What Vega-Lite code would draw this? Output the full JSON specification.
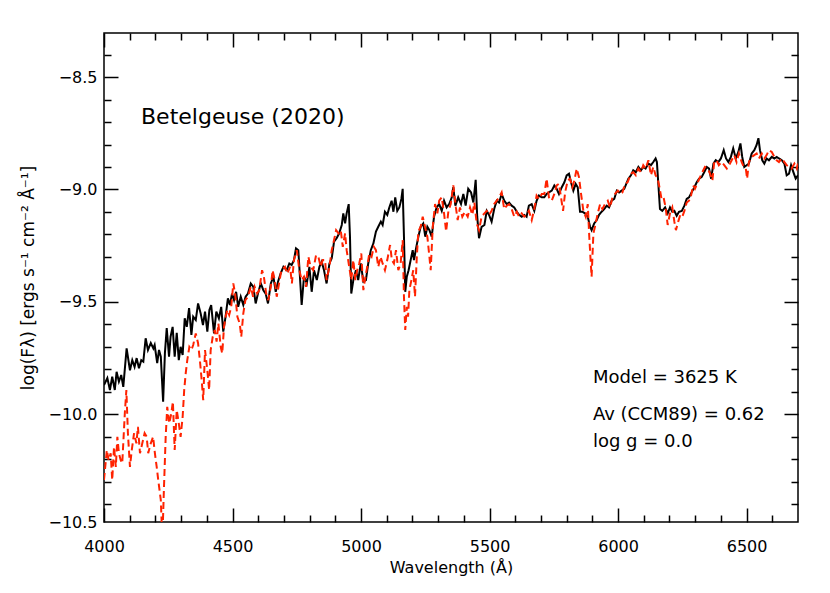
{
  "$schema": "https://vega.github.io/schema/vega-lite/v6.json",
  "width": 694,
  "height": 489,
  "autosize": {"type": "none"},
  "padding": {"left": 104, "top": 33, "right": 32, "bottom": 71},
  "background": "white",
  "config": {
    "font": "DejaVu Sans",
    "view": {"stroke": "black", "strokeWidth": 1.5},
    "axis": {"grid": false, "domain": false, "labelColor": "black", "titleColor": "black", "tickColor": "black", "tickWidth": 1.5, "labelFlush": false, "labelOverlap": false, "labelFontSize": 16, "titleFontSize": 16, "titleFontWeight": "normal", "labelFont": "DejaVu Sans", "titleFont": "DejaVu Sans"}
  },
  "datasets": {
    "observed": [
      {"wavelength": 4000, "logF": -9.870}, {"wavelength": 4013, "logF": -9.839}, {"wavelength": 4023, "logF": -9.892}, {"wavelength": 4032, "logF": -9.833}, {"wavelength": 4042, "logF": -9.892}, {"wavelength": 4049, "logF": -9.811}, {"wavelength": 4058, "logF": -9.855}, {"wavelength": 4067, "logF": -9.825}, {"wavelength": 4075, "logF": -9.878}, {"wavelength": 4088, "logF": -9.707},
      {"wavelength": 4101, "logF": -9.804}, {"wavelength": 4110, "logF": -9.759}, {"wavelength": 4119, "logF": -9.789}, {"wavelength": 4127, "logF": -9.750}, {"wavelength": 4136, "logF": -9.795}, {"wavelength": 4145, "logF": -9.759}, {"wavelength": 4153, "logF": -9.766}, {"wavelength": 4162, "logF": -9.662}, {"wavelength": 4171, "logF": -9.714}, {"wavelength": 4182, "logF": -9.683},
      {"wavelength": 4192, "logF": -9.707}, {"wavelength": 4197, "logF": -9.692}, {"wavelength": 4207, "logF": -9.772}, {"wavelength": 4214, "logF": -9.714}, {"wavelength": 4221, "logF": -9.744}, {"wavelength": 4230, "logF": -9.944}, {"wavelength": 4237, "logF": -9.727}, {"wavelength": 4244, "logF": -9.616}, {"wavelength": 4253, "logF": -9.744}, {"wavelength": 4259, "logF": -9.655},
      {"wavelength": 4267, "logF": -9.611}, {"wavelength": 4275, "logF": -9.744}, {"wavelength": 4283, "logF": -9.638}, {"wavelength": 4291, "logF": -9.759}, {"wavelength": 4298, "logF": -9.700}, {"wavelength": 4306, "logF": -9.736}, {"wavelength": 4314, "logF": -9.573}, {"wavelength": 4322, "logF": -9.611}, {"wavelength": 4331, "logF": -9.528}, {"wavelength": 4340, "logF": -9.647},
      {"wavelength": 4347, "logF": -9.566}, {"wavelength": 4357, "logF": -9.581}, {"wavelength": 4366, "logF": -9.507}, {"wavelength": 4376, "logF": -9.551}, {"wavelength": 4385, "logF": -9.603}, {"wavelength": 4393, "logF": -9.543}, {"wavelength": 4402, "logF": -9.632}, {"wavelength": 4410, "logF": -9.536}, {"wavelength": 4417, "logF": -9.514}, {"wavelength": 4428, "logF": -9.640},
      {"wavelength": 4437, "logF": -9.543}, {"wavelength": 4447, "logF": -9.573}, {"wavelength": 4456, "logF": -9.522}, {"wavelength": 4464, "logF": -9.632}, {"wavelength": 4473, "logF": -9.566}, {"wavelength": 4482, "logF": -9.484}, {"wavelength": 4490, "logF": -9.514}, {"wavelength": 4498, "logF": -9.463}, {"wavelength": 4506, "logF": -9.492}, {"wavelength": 4514, "logF": -9.455},
      {"wavelength": 4522, "logF": -9.522}, {"wavelength": 4532, "logF": -9.477}, {"wavelength": 4542, "logF": -9.514}, {"wavelength": 4551, "logF": -9.477}, {"wavelength": 4560, "logF": -9.463}, {"wavelength": 4571, "logF": -9.418}, {"wavelength": 4581, "logF": -9.433}, {"wavelength": 4590, "logF": -9.507}, {"wavelength": 4599, "logF": -9.463}, {"wavelength": 4610, "logF": -9.418},
      {"wavelength": 4620, "logF": -9.448}, {"wavelength": 4629, "logF": -9.463}, {"wavelength": 4638, "logF": -9.507}, {"wavelength": 4649, "logF": -9.418}, {"wavelength": 4659, "logF": -9.388}, {"wavelength": 4668, "logF": -9.455}, {"wavelength": 4677, "logF": -9.410}, {"wavelength": 4687, "logF": -9.374}, {"wavelength": 4698, "logF": -9.344}, {"wavelength": 4711, "logF": -9.359},
      {"wavelength": 4721, "logF": -9.329}, {"wavelength": 4730, "logF": -9.336}, {"wavelength": 4739, "logF": -9.314}, {"wavelength": 4747, "logF": -9.262}, {"wavelength": 4756, "logF": -9.270}, {"wavelength": 4769, "logF": -9.514}, {"wavelength": 4778, "logF": -9.388}, {"wavelength": 4789, "logF": -9.418}, {"wavelength": 4799, "logF": -9.344}, {"wavelength": 4808, "logF": -9.455},
      {"wavelength": 4817, "logF": -9.359}, {"wavelength": 4828, "logF": -9.403}, {"wavelength": 4838, "logF": -9.344}, {"wavelength": 4847, "logF": -9.321}, {"wavelength": 4856, "logF": -9.359}, {"wavelength": 4866, "logF": -9.418}, {"wavelength": 4877, "logF": -9.329}, {"wavelength": 4886, "logF": -9.306}, {"wavelength": 4895, "logF": -9.232}, {"wavelength": 4905, "logF": -9.217},
      {"wavelength": 4915, "logF": -9.195}, {"wavelength": 4925, "logF": -9.158}, {"wavelength": 4931, "logF": -9.106}, {"wavelength": 4938, "logF": -9.151}, {"wavelength": 4944, "logF": -9.106}, {"wavelength": 4952, "logF": -9.065}, {"wavelength": 4957, "logF": -9.210}, {"wavelength": 4962, "logF": -9.463}, {"wavelength": 4970, "logF": -9.403}, {"wavelength": 4980, "logF": -9.359},
      {"wavelength": 4989, "logF": -9.403}, {"wavelength": 4999, "logF": -9.329}, {"wavelength": 5009, "logF": -9.410}, {"wavelength": 5019, "logF": -9.403}, {"wavelength": 5028, "logF": -9.329}, {"wavelength": 5038, "logF": -9.270}, {"wavelength": 5048, "logF": -9.240}, {"wavelength": 5058, "logF": -9.187}, {"wavelength": 5067, "logF": -9.166}, {"wavelength": 5077, "logF": -9.143},
      {"wavelength": 5084, "logF": -9.158}, {"wavelength": 5093, "logF": -9.099}, {"wavelength": 5102, "logF": -9.113}, {"wavelength": 5110, "logF": -9.080}, {"wavelength": 5119, "logF": -9.050}, {"wavelength": 5126, "logF": -9.099}, {"wavelength": 5133, "logF": -9.035}, {"wavelength": 5141, "logF": -9.095}, {"wavelength": 5149, "logF": -9.080}, {"wavelength": 5157, "logF": -9.042},
      {"wavelength": 5162, "logF": -8.997}, {"wavelength": 5167, "logF": -9.210}, {"wavelength": 5172, "logF": -9.455}, {"wavelength": 5178, "logF": -9.388}, {"wavelength": 5185, "logF": -9.359}, {"wavelength": 5193, "logF": -9.314}, {"wavelength": 5201, "logF": -9.270}, {"wavelength": 5206, "logF": -9.314}, {"wavelength": 5214, "logF": -9.262}, {"wavelength": 5223, "logF": -9.210},
      {"wavelength": 5232, "logF": -9.166}, {"wavelength": 5242, "logF": -9.151}, {"wavelength": 5250, "logF": -9.210}, {"wavelength": 5258, "logF": -9.166}, {"wavelength": 5266, "logF": -9.181}, {"wavelength": 5275, "logF": -9.210}, {"wavelength": 5284, "logF": -9.121}, {"wavelength": 5294, "logF": -9.080}, {"wavelength": 5304, "logF": -9.065}, {"wavelength": 5314, "logF": -9.095},
      {"wavelength": 5323, "logF": -9.050}, {"wavelength": 5333, "logF": -9.080}, {"wavelength": 5343, "logF": -9.065}, {"wavelength": 5353, "logF": -9.035}, {"wavelength": 5359, "logF": -8.990}, {"wavelength": 5367, "logF": -9.072}, {"wavelength": 5378, "logF": -9.035}, {"wavelength": 5389, "logF": -9.065}, {"wavelength": 5398, "logF": -9.020}, {"wavelength": 5407, "logF": -9.072},
      {"wavelength": 5417, "logF": -8.997}, {"wavelength": 5428, "logF": -9.013}, {"wavelength": 5437, "logF": -9.058}, {"wavelength": 5446, "logF": -8.957}, {"wavelength": 5452, "logF": -9.121}, {"wavelength": 5459, "logF": -9.217}, {"wavelength": 5469, "logF": -9.166}, {"wavelength": 5480, "logF": -9.158}, {"wavelength": 5489, "logF": -9.095}, {"wavelength": 5498, "logF": -9.113},
      {"wavelength": 5508, "logF": -9.143}, {"wavelength": 5518, "logF": -9.087}, {"wavelength": 5528, "logF": -9.050}, {"wavelength": 5537, "logF": -9.058}, {"wavelength": 5547, "logF": -9.020}, {"wavelength": 5557, "logF": -9.050}, {"wavelength": 5567, "logF": -9.065}, {"wavelength": 5576, "logF": -9.058}, {"wavelength": 5586, "logF": -9.072}, {"wavelength": 5596, "logF": -9.080},
      {"wavelength": 5606, "logF": -9.099}, {"wavelength": 5615, "logF": -9.113}, {"wavelength": 5625, "logF": -9.121}, {"wavelength": 5635, "logF": -9.113}, {"wavelength": 5644, "logF": -9.121}, {"wavelength": 5653, "logF": -9.072}, {"wavelength": 5664, "logF": -9.065}, {"wavelength": 5674, "logF": -9.095}, {"wavelength": 5683, "logF": -9.050}, {"wavelength": 5692, "logF": -9.027},
      {"wavelength": 5703, "logF": -9.035}, {"wavelength": 5713, "logF": -9.035}, {"wavelength": 5722, "logF": -9.020}, {"wavelength": 5731, "logF": -9.013}, {"wavelength": 5742, "logF": -9.005}, {"wavelength": 5752, "logF": -8.982}, {"wavelength": 5761, "logF": -8.997}, {"wavelength": 5770, "logF": -9.020}, {"wavelength": 5781, "logF": -8.990}, {"wavelength": 5791, "logF": -8.968},
      {"wavelength": 5800, "logF": -8.937}, {"wavelength": 5809, "logF": -8.930}, {"wavelength": 5817, "logF": -8.968}, {"wavelength": 5826, "logF": -9.005}, {"wavelength": 5835, "logF": -8.975}, {"wavelength": 5843, "logF": -8.990}, {"wavelength": 5852, "logF": -9.099}, {"wavelength": 5861, "logF": -9.099}, {"wavelength": 5871, "logF": -9.106}, {"wavelength": 5882, "logF": -9.121},
      {"wavelength": 5891, "logF": -9.166}, {"wavelength": 5897, "logF": -9.181}, {"wavelength": 5907, "logF": -9.151}, {"wavelength": 5917, "logF": -9.136}, {"wavelength": 5926, "logF": -9.113}, {"wavelength": 5936, "logF": -9.099}, {"wavelength": 5946, "logF": -9.087}, {"wavelength": 5956, "logF": -9.072}, {"wavelength": 5965, "logF": -9.080}, {"wavelength": 5975, "logF": -9.050},
      {"wavelength": 5985, "logF": -9.042}, {"wavelength": 5995, "logF": -9.005}, {"wavelength": 6004, "logF": -9.013}, {"wavelength": 6014, "logF": -9.005}, {"wavelength": 6024, "logF": -8.997}, {"wavelength": 6040, "logF": -8.952}, {"wavelength": 6050, "logF": -8.937}, {"wavelength": 6059, "logF": -8.915}, {"wavelength": 6069, "logF": -8.923}, {"wavelength": 6079, "logF": -8.900},
      {"wavelength": 6089, "logF": -8.915}, {"wavelength": 6098, "logF": -8.900}, {"wavelength": 6107, "logF": -8.907}, {"wavelength": 6118, "logF": -8.885}, {"wavelength": 6128, "logF": -8.892}, {"wavelength": 6137, "logF": -8.878}, {"wavelength": 6146, "logF": -8.862}, {"wavelength": 6151, "logF": -8.878}, {"wavelength": 6157, "logF": -8.982}, {"wavelength": 6163, "logF": -9.087},
      {"wavelength": 6172, "logF": -9.095}, {"wavelength": 6183, "logF": -9.080}, {"wavelength": 6193, "logF": -9.106}, {"wavelength": 6202, "logF": -9.080}, {"wavelength": 6211, "logF": -9.099}, {"wavelength": 6219, "logF": -9.095}, {"wavelength": 6228, "logF": -9.117}, {"wavelength": 6237, "logF": -9.099}, {"wavelength": 6248, "logF": -9.095}, {"wavelength": 6258, "logF": -9.072},
      {"wavelength": 6267, "logF": -9.042}, {"wavelength": 6276, "logF": -9.035}, {"wavelength": 6286, "logF": -9.013}, {"wavelength": 6297, "logF": -8.990}, {"wavelength": 6306, "logF": -8.968}, {"wavelength": 6315, "logF": -8.952}, {"wavelength": 6325, "logF": -8.945}, {"wavelength": 6335, "logF": -8.923}, {"wavelength": 6345, "logF": -8.900}, {"wavelength": 6354, "logF": -8.907},
      {"wavelength": 6362, "logF": -8.952}, {"wavelength": 6371, "logF": -8.885}, {"wavelength": 6380, "logF": -8.870}, {"wavelength": 6390, "logF": -8.878}, {"wavelength": 6400, "logF": -8.862}, {"wavelength": 6411, "logF": -8.825}, {"wavelength": 6420, "logF": -8.862}, {"wavelength": 6429, "logF": -8.878}, {"wavelength": 6439, "logF": -8.855}, {"wavelength": 6448, "logF": -8.817},
      {"wavelength": 6458, "logF": -8.862}, {"wavelength": 6468, "logF": -8.833}, {"wavelength": 6476, "logF": -8.795}, {"wavelength": 6483, "logF": -8.855}, {"wavelength": 6491, "logF": -8.900}, {"wavelength": 6500, "logF": -8.892}, {"wavelength": 6509, "logF": -8.885}, {"wavelength": 6520, "logF": -8.840}, {"wavelength": 6530, "logF": -8.825}, {"wavelength": 6539, "logF": -8.802},
      {"wavelength": 6546, "logF": -8.772}, {"wavelength": 6552, "logF": -8.825}, {"wavelength": 6561, "logF": -8.870}, {"wavelength": 6569, "logF": -8.885}, {"wavelength": 6578, "logF": -8.862}, {"wavelength": 6587, "logF": -8.870}, {"wavelength": 6598, "logF": -8.855}, {"wavelength": 6608, "logF": -8.862}, {"wavelength": 6617, "logF": -8.855}, {"wavelength": 6626, "logF": -8.862},
      {"wavelength": 6637, "logF": -8.870}, {"wavelength": 6647, "logF": -8.885}, {"wavelength": 6656, "logF": -8.937}, {"wavelength": 6665, "logF": -8.930}, {"wavelength": 6673, "logF": -8.892}, {"wavelength": 6682, "logF": -8.923}, {"wavelength": 6691, "logF": -8.952}, {"wavelength": 6700, "logF": -8.937}
    ],
    "model": [
      {"wavelength": 4000, "logF": -10.292}, {"wavelength": 4011, "logF": -10.159}, {"wavelength": 4018, "logF": -10.204}, {"wavelength": 4026, "logF": -10.173}, {"wavelength": 4032, "logF": -10.292}, {"wavelength": 4039, "logF": -10.145}, {"wavelength": 4046, "logF": -10.234}, {"wavelength": 4052, "logF": -10.100}, {"wavelength": 4058, "logF": -10.173}, {"wavelength": 4065, "logF": -10.204},
      {"wavelength": 4071, "logF": -10.218}, {"wavelength": 4081, "logF": -9.995}, {"wavelength": 4087, "logF": -9.892}, {"wavelength": 4093, "logF": -10.084}, {"wavelength": 4101, "logF": -10.234}, {"wavelength": 4108, "logF": -10.159}, {"wavelength": 4117, "logF": -10.084}, {"wavelength": 4126, "logF": -10.129}, {"wavelength": 4132, "logF": -10.056}, {"wavelength": 4140, "logF": -10.173},
      {"wavelength": 4149, "logF": -10.129}, {"wavelength": 4158, "logF": -10.084}, {"wavelength": 4166, "logF": -10.100}, {"wavelength": 4172, "logF": -10.173}, {"wavelength": 4182, "logF": -10.129}, {"wavelength": 4191, "logF": -10.100}, {"wavelength": 4198, "logF": -10.173}, {"wavelength": 4205, "logF": -10.234}, {"wavelength": 4211, "logF": -10.292}, {"wavelength": 4221, "logF": -10.381},
      {"wavelength": 4227, "logF": -10.56}, {"wavelength": 4233, "logF": -10.336}, {"wavelength": 4240, "logF": -10.100}, {"wavelength": 4246, "logF": -9.967}, {"wavelength": 4254, "logF": -10.040}, {"wavelength": 4262, "logF": -9.995}, {"wavelength": 4268, "logF": -9.944}, {"wavelength": 4275, "logF": -10.159}, {"wavelength": 4283, "logF": -9.981}, {"wavelength": 4291, "logF": -10.040},
      {"wavelength": 4298, "logF": -10.100}, {"wavelength": 4306, "logF": -10.011}, {"wavelength": 4312, "logF": -9.892}, {"wavelength": 4318, "logF": -9.817}, {"wavelength": 4324, "logF": -9.759}, {"wavelength": 4332, "logF": -9.700}, {"wavelength": 4340, "logF": -9.714}, {"wavelength": 4347, "logF": -9.692}, {"wavelength": 4357, "logF": -9.640}, {"wavelength": 4366, "logF": -9.684},
      {"wavelength": 4373, "logF": -9.759}, {"wavelength": 4380, "logF": -9.848}, {"wavelength": 4386, "logF": -9.937}, {"wavelength": 4393, "logF": -9.714}, {"wavelength": 4402, "logF": -9.804}, {"wavelength": 4409, "logF": -9.892}, {"wavelength": 4415, "logF": -9.714}, {"wavelength": 4423, "logF": -9.655}, {"wavelength": 4431, "logF": -9.625}, {"wavelength": 4438, "logF": -9.677},
      {"wavelength": 4445, "logF": -9.596}, {"wavelength": 4454, "logF": -9.700}, {"wavelength": 4460, "logF": -9.729}, {"wavelength": 4467, "logF": -9.611}, {"wavelength": 4473, "logF": -9.566}, {"wavelength": 4480, "logF": -9.536}, {"wavelength": 4487, "logF": -9.558}, {"wavelength": 4495, "logF": -9.522}, {"wavelength": 4503, "logF": -9.418}, {"wavelength": 4510, "logF": -9.463},
      {"wavelength": 4519, "logF": -9.566}, {"wavelength": 4528, "logF": -9.596}, {"wavelength": 4534, "logF": -9.655}, {"wavelength": 4542, "logF": -9.551}, {"wavelength": 4550, "logF": -9.492}, {"wavelength": 4560, "logF": -9.477}, {"wavelength": 4571, "logF": -9.433}, {"wavelength": 4580, "logF": -9.477}, {"wavelength": 4586, "logF": -9.433}, {"wavelength": 4596, "logF": -9.463},
      {"wavelength": 4604, "logF": -9.448}, {"wavelength": 4615, "logF": -9.359}, {"wavelength": 4622, "logF": -9.388}, {"wavelength": 4631, "logF": -9.463}, {"wavelength": 4639, "logF": -9.492}, {"wavelength": 4649, "logF": -9.433}, {"wavelength": 4656, "logF": -9.359}, {"wavelength": 4664, "logF": -9.403}, {"wavelength": 4672, "logF": -9.477}, {"wavelength": 4681, "logF": -9.418},
      {"wavelength": 4690, "logF": -9.359}, {"wavelength": 4704, "logF": -9.344}, {"wavelength": 4713, "logF": -9.374}, {"wavelength": 4724, "logF": -9.344}, {"wavelength": 4731, "logF": -9.418}, {"wavelength": 4739, "logF": -9.314}, {"wavelength": 4750, "logF": -9.270}, {"wavelength": 4760, "logF": -9.359}, {"wavelength": 4769, "logF": -9.403}, {"wavelength": 4778, "logF": -9.388},
      {"wavelength": 4786, "logF": -9.433}, {"wavelength": 4795, "logF": -9.299}, {"wavelength": 4804, "logF": -9.344}, {"wavelength": 4814, "logF": -9.359}, {"wavelength": 4825, "logF": -9.292}, {"wavelength": 4834, "logF": -9.299}, {"wavelength": 4843, "logF": -9.344}, {"wavelength": 4851, "logF": -9.314}, {"wavelength": 4860, "logF": -9.314}, {"wavelength": 4866, "logF": -9.403},
      {"wavelength": 4877, "logF": -9.344}, {"wavelength": 4886, "logF": -9.270}, {"wavelength": 4895, "logF": -9.225}, {"wavelength": 4903, "logF": -9.181}, {"wavelength": 4912, "logF": -9.195}, {"wavelength": 4921, "logF": -9.181}, {"wavelength": 4929, "logF": -9.255}, {"wavelength": 4938, "logF": -9.195}, {"wavelength": 4944, "logF": -9.270}, {"wavelength": 4954, "logF": -9.344},
      {"wavelength": 4962, "logF": -9.403}, {"wavelength": 4970, "logF": -9.314}, {"wavelength": 4978, "logF": -9.403}, {"wavelength": 4985, "logF": -9.359}, {"wavelength": 4993, "logF": -9.329}, {"wavelength": 5001, "logF": -9.285}, {"wavelength": 5009, "logF": -9.448}, {"wavelength": 5017, "logF": -9.388}, {"wavelength": 5024, "logF": -9.344}, {"wavelength": 5032, "logF": -9.285},
      {"wavelength": 5041, "logF": -9.299}, {"wavelength": 5050, "logF": -9.255}, {"wavelength": 5058, "logF": -9.270}, {"wavelength": 5067, "logF": -9.344}, {"wavelength": 5076, "logF": -9.299}, {"wavelength": 5084, "logF": -9.329}, {"wavelength": 5093, "logF": -9.359}, {"wavelength": 5102, "logF": -9.314}, {"wavelength": 5113, "logF": -9.247}, {"wavelength": 5120, "logF": -9.314},
      {"wavelength": 5128, "logF": -9.329}, {"wavelength": 5136, "logF": -9.270}, {"wavelength": 5145, "logF": -9.359}, {"wavelength": 5154, "logF": -9.329}, {"wavelength": 5162, "logF": -9.225}, {"wavelength": 5167, "logF": -9.477}, {"wavelength": 5172, "logF": -9.625}, {"wavelength": 5178, "logF": -9.522}, {"wavelength": 5183, "logF": -9.566}, {"wavelength": 5188, "logF": -9.448},
      {"wavelength": 5196, "logF": -9.403}, {"wavelength": 5203, "logF": -9.359}, {"wavelength": 5210, "logF": -9.477}, {"wavelength": 5217, "logF": -9.299}, {"wavelength": 5223, "logF": -9.187}, {"wavelength": 5232, "logF": -9.166}, {"wavelength": 5240, "logF": -9.121}, {"wavelength": 5249, "logF": -9.166}, {"wavelength": 5258, "logF": -9.210}, {"wavelength": 5266, "logF": -9.299},
      {"wavelength": 5271, "logF": -9.359}, {"wavelength": 5279, "logF": -9.166}, {"wavelength": 5288, "logF": -9.065}, {"wavelength": 5297, "logF": -9.106}, {"wavelength": 5304, "logF": -9.050}, {"wavelength": 5314, "logF": -9.035}, {"wavelength": 5323, "logF": -9.106}, {"wavelength": 5331, "logF": -9.187}, {"wavelength": 5340, "logF": -9.095}, {"wavelength": 5349, "logF": -9.065},
      {"wavelength": 5359, "logF": -8.982}, {"wavelength": 5369, "logF": -9.080}, {"wavelength": 5376, "logF": -9.136}, {"wavelength": 5385, "logF": -9.080}, {"wavelength": 5394, "logF": -9.121}, {"wavelength": 5404, "logF": -9.099}, {"wavelength": 5415, "logF": -9.121}, {"wavelength": 5424, "logF": -9.080}, {"wavelength": 5433, "logF": -9.113}, {"wavelength": 5441, "logF": -9.058},
      {"wavelength": 5450, "logF": -9.151}, {"wavelength": 5459, "logF": -9.181}, {"wavelength": 5469, "logF": -9.121}, {"wavelength": 5480, "logF": -9.106}, {"wavelength": 5489, "logF": -9.095}, {"wavelength": 5498, "logF": -9.113}, {"wavelength": 5508, "logF": -9.095}, {"wavelength": 5518, "logF": -9.065}, {"wavelength": 5528, "logF": -9.050}, {"wavelength": 5537, "logF": -9.035},
      {"wavelength": 5547, "logF": -9.013}, {"wavelength": 5557, "logF": -9.087}, {"wavelength": 5567, "logF": -9.072}, {"wavelength": 5576, "logF": -9.065}, {"wavelength": 5586, "logF": -9.087}, {"wavelength": 5596, "logF": -9.121}, {"wavelength": 5606, "logF": -9.099}, {"wavelength": 5615, "logF": -9.121}, {"wavelength": 5625, "logF": -9.106}, {"wavelength": 5635, "logF": -9.121},
      {"wavelength": 5644, "logF": -9.113}, {"wavelength": 5653, "logF": -9.095}, {"wavelength": 5664, "logF": -9.136}, {"wavelength": 5674, "logF": -9.087}, {"wavelength": 5683, "logF": -9.027}, {"wavelength": 5692, "logF": -9.042}, {"wavelength": 5703, "logF": -9.020}, {"wavelength": 5713, "logF": -9.020}, {"wavelength": 5722, "logF": -8.952}, {"wavelength": 5731, "logF": -9.035},
      {"wavelength": 5742, "logF": -9.050}, {"wavelength": 5752, "logF": -9.020}, {"wavelength": 5761, "logF": -8.982}, {"wavelength": 5770, "logF": -8.975}, {"wavelength": 5778, "logF": -9.035}, {"wavelength": 5786, "logF": -9.095}, {"wavelength": 5794, "logF": -9.013}, {"wavelength": 5804, "logF": -8.960}, {"wavelength": 5813, "logF": -8.952}, {"wavelength": 5822, "logF": -8.990},
      {"wavelength": 5830, "logF": -8.960}, {"wavelength": 5839, "logF": -8.907}, {"wavelength": 5848, "logF": -8.945}, {"wavelength": 5856, "logF": -9.020}, {"wavelength": 5865, "logF": -9.095}, {"wavelength": 5874, "logF": -9.121}, {"wavelength": 5882, "logF": -9.065}, {"wavelength": 5888, "logF": -9.210}, {"wavelength": 5893, "logF": -9.314}, {"wavelength": 5897, "logF": -9.388},
      {"wavelength": 5904, "logF": -9.195}, {"wavelength": 5910, "logF": -9.166}, {"wavelength": 5921, "logF": -9.106}, {"wavelength": 5930, "logF": -9.065}, {"wavelength": 5939, "logF": -9.087}, {"wavelength": 5949, "logF": -9.065}, {"wavelength": 5960, "logF": -9.050}, {"wavelength": 5969, "logF": -9.080}, {"wavelength": 5978, "logF": -9.035}, {"wavelength": 5988, "logF": -9.020},
      {"wavelength": 5999, "logF": -9.005}, {"wavelength": 6008, "logF": -9.020}, {"wavelength": 6017, "logF": -9.013}, {"wavelength": 6027, "logF": -8.975}, {"wavelength": 6037, "logF": -8.968}, {"wavelength": 6050, "logF": -8.930}, {"wavelength": 6059, "logF": -8.923}, {"wavelength": 6069, "logF": -8.937}, {"wavelength": 6079, "logF": -8.907}, {"wavelength": 6089, "logF": -8.923},
      {"wavelength": 6098, "logF": -8.892}, {"wavelength": 6107, "logF": -8.907}, {"wavelength": 6118, "logF": -8.870}, {"wavelength": 6128, "logF": -8.937}, {"wavelength": 6137, "logF": -8.900}, {"wavelength": 6146, "logF": -8.937}, {"wavelength": 6154, "logF": -8.952}, {"wavelength": 6161, "logF": -8.990}, {"wavelength": 6169, "logF": -9.042}, {"wavelength": 6177, "logF": -9.035},
      {"wavelength": 6185, "logF": -9.080}, {"wavelength": 6193, "logF": -9.158}, {"wavelength": 6202, "logF": -9.106}, {"wavelength": 6211, "logF": -9.080}, {"wavelength": 6219, "logF": -9.143}, {"wavelength": 6225, "logF": -9.181}, {"wavelength": 6234, "logF": -9.143}, {"wavelength": 6242, "logF": -9.113}, {"wavelength": 6250, "logF": -9.121}, {"wavelength": 6258, "logF": -9.095},
      {"wavelength": 6267, "logF": -9.058}, {"wavelength": 6276, "logF": -9.050}, {"wavelength": 6284, "logF": -9.027}, {"wavelength": 6292, "logF": -8.982}, {"wavelength": 6299, "logF": -8.997}, {"wavelength": 6310, "logF": -8.968}, {"wavelength": 6319, "logF": -8.945}, {"wavelength": 6328, "logF": -8.923}, {"wavelength": 6338, "logF": -8.900}, {"wavelength": 6349, "logF": -8.907},
      {"wavelength": 6358, "logF": -8.930}, {"wavelength": 6367, "logF": -8.960}, {"wavelength": 6374, "logF": -8.878}, {"wavelength": 6383, "logF": -8.870}, {"wavelength": 6392, "logF": -8.892}, {"wavelength": 6403, "logF": -8.878}, {"wavelength": 6413, "logF": -8.892}, {"wavelength": 6423, "logF": -8.907}, {"wavelength": 6432, "logF": -8.892}, {"wavelength": 6442, "logF": -8.870},
      {"wavelength": 6452, "logF": -8.847}, {"wavelength": 6461, "logF": -8.878}, {"wavelength": 6470, "logF": -8.840}, {"wavelength": 6481, "logF": -8.878}, {"wavelength": 6489, "logF": -8.900}, {"wavelength": 6497, "logF": -8.907}, {"wavelength": 6502, "logF": -8.952}, {"wavelength": 6509, "logF": -8.878}, {"wavelength": 6520, "logF": -8.855}, {"wavelength": 6530, "logF": -8.847},
      {"wavelength": 6539, "logF": -8.840}, {"wavelength": 6548, "logF": -8.862}, {"wavelength": 6559, "logF": -8.840}, {"wavelength": 6569, "logF": -8.862}, {"wavelength": 6578, "logF": -8.847}, {"wavelength": 6587, "logF": -8.825}, {"wavelength": 6598, "logF": -8.833}, {"wavelength": 6608, "logF": -8.855}, {"wavelength": 6617, "logF": -8.870}, {"wavelength": 6626, "logF": -8.878},
      {"wavelength": 6637, "logF": -8.862}, {"wavelength": 6647, "logF": -8.878}, {"wavelength": 6656, "logF": -8.892}, {"wavelength": 6665, "logF": -8.900}, {"wavelength": 6675, "logF": -8.907}, {"wavelength": 6686, "logF": -8.885}, {"wavelength": 6695, "logF": -8.907}, {"wavelength": 6700, "logF": -8.885}
    ]
  },
  "layer": [
    {
      "data": {"name": "observed"},
      "mark": {"type": "line", "color": "black", "strokeWidth": 2, "clip": true},
      "encoding": {
        "x": {"field": "wavelength", "type": "quantitative", "scale": {"domain": [4000, 6700], "nice": false, "zero": false},
          "axis": {"orient": "bottom", "ticks": false, "values": [4000, 4500, 5000, 5500, 6000, 6500], "format": "d", "labelPadding": 16, "title": "Wavelength (Å)", "titlePadding": 5}},
        "y": {"field": "logF", "type": "quantitative", "scale": {"domain": [-10.479, -8.304], "nice": false, "zero": false},
          "axis": {"orient": "left", "ticks": false, "values": [-10.479, -10.0, -9.5, -9.0, -8.5], "format": ".1f", "labelPadding": 7, "title": "log(Fλ) [ergs s⁻¹ cm⁻² Å⁻¹]", "titleFontSize": 17, "titlePadding": 10}}
      }
    },
    {
      "data": {"name": "model"},
      "mark": {"type": "line", "color": "#ff2200", "strokeWidth": 2, "strokeDash": [7, 4], "clip": true},
      "encoding": {
        "x": {"field": "wavelength", "type": "quantitative", "scale": {"domain": [4000, 6700], "nice": false, "zero": false},
          "axis": {"orient": "bottom", "labels": false, "title": null, "tickSize": -14, "values": [4000, 4500, 5000, 5500, 6000, 6500]}},
        "y": {"field": "logF", "type": "quantitative", "scale": {"domain": [-10.479, -8.304], "nice": false, "zero": false},
          "axis": {"orient": "left", "labels": false, "title": null, "tickSize": -14, "values": [-10.0, -9.5, -9.0, -8.5]}}
      }
    },
    {
      "data": {"values": [{"label": "Betelgeuse (2020)"}]},
      "mark": {"type": "text", "align": "left", "baseline": "middle", "fontSize": 22, "color": "black"},
      "encoding": {
        "x": {"datum": 4144, "type": "quantitative", "scale": {"domain": [4000, 6700], "nice": false, "zero": false},
          "axis": {"orient": "bottom", "labels": false, "title": null, "tickSize": -7, "values": [4100, 4200, 4300, 4400, 4600, 4700, 4800, 4900, 5100, 5200, 5300, 5400, 5600, 5700, 5800, 5900, 6100, 6200, 6300, 6400, 6600]}},
        "y": {"datum": -8.678, "type": "quantitative", "scale": {"domain": [-10.479, -8.304], "nice": false, "zero": false},
          "axis": {"orient": "left", "labels": false, "title": null, "tickSize": -7, "values": [-10.4, -10.3, -10.2, -10.1, -9.9, -9.8, -9.7, -9.6, -9.4, -9.3, -9.2, -9.1, -8.9, -8.8, -8.7, -8.6, -8.4]}},
        "text": {"field": "label"}
      }
    },
    {
      "data": {"values": [{"label": "Model = 3625 K"}]},
      "mark": {"type": "text", "align": "left", "baseline": "middle", "fontSize": 18, "color": "black"},
      "encoding": {
        "x": {"datum": 5902, "type": "quantitative", "scale": {"domain": [4000, 6700], "nice": false, "zero": false},
          "axis": {"orient": "top", "labels": false, "title": null, "tickSize": -14, "values": [4000, 4500, 5000, 5500, 6000, 6500]}},
        "y": {"datum": -9.839, "type": "quantitative", "scale": {"domain": [-10.479, -8.304], "nice": false, "zero": false},
          "axis": {"orient": "right", "labels": false, "title": null, "tickSize": -14, "values": [-10.0, -9.5, -9.0, -8.5]}},
        "text": {"field": "label"}
      }
    },
    {
      "data": {"values": [{"label": "Av (CCM89) = 0.62"}]},
      "mark": {"type": "text", "align": "left", "baseline": "middle", "fontSize": 18, "color": "black"},
      "encoding": {
        "x": {"datum": 5902, "type": "quantitative", "scale": {"domain": [4000, 6700], "nice": false, "zero": false},
          "axis": {"orient": "top", "labels": false, "title": null, "tickSize": -7, "values": [4100, 4200, 4300, 4400, 4600, 4700, 4800, 4900, 5100, 5200, 5300, 5400, 5600, 5700, 5800, 5900, 6100, 6200, 6300, 6400, 6600]}},
        "y": {"datum": -10.003, "type": "quantitative", "scale": {"domain": [-10.479, -8.304], "nice": false, "zero": false},
          "axis": {"orient": "right", "labels": false, "title": null, "tickSize": -7, "values": [-10.4, -10.3, -10.2, -10.1, -9.9, -9.8, -9.7, -9.6, -9.4, -9.3, -9.2, -9.1, -8.9, -8.8, -8.7, -8.6, -8.4]}},
        "text": {"field": "label"}
      }
    },
    {
      "data": {"values": [{"label": "log g = 0.0"}]},
      "mark": {"type": "text", "align": "left", "baseline": "middle", "fontSize": 18, "color": "black"},
      "encoding": {
        "x": {"datum": 5902, "type": "quantitative", "scale": {"domain": [4000, 6700], "nice": false, "zero": false}, "axis": null},
        "y": {"datum": -10.123, "type": "quantitative", "scale": {"domain": [-10.479, -8.304], "nice": false, "zero": false}, "axis": null},
        "text": {"field": "label"}
      }
    }
  ],
  "resolve": {"axis": {"x": "independent", "y": "independent"}}
}
